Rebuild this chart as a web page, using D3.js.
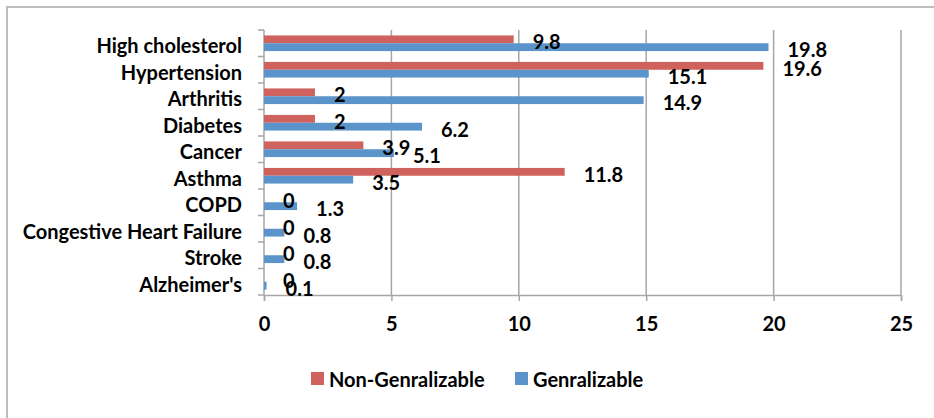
<!DOCTYPE html>
<html><head><meta charset="utf-8">
<script src="https://cdn.jsdelivr.net/npm/d3@7"></script>
<style>
html,body{margin:0;padding:0;background:#fff;}
svg{display:block;font-family:Lato,"Open Sans",sans-serif;font-weight:bold;}
</style></head>
<body><svg id="c" width="934" height="418"></svg>
<script>
const categories = ["High cholesterol","Hypertension","Arthritis","Diabetes","Cancer","Asthma","COPD","Congestive Heart Failure","Stroke","Alzheimer's"];
const nonGeneralizable = [9.8,19.6,2,2,3.9,11.8,0,0,0,0];
const generalizable = [19.8,15.1,14.9,6.2,5.1,3.5,1.3,0.8,0.8,0.1];
const seriesNames = ["Non-Genralizable","Genralizable"];
const seriesColors = ["#D0625E","#5B94CA"];
const xTicks = [0,5,10,15,20,25];

const svg = d3.select("#c");
const gridColor = "#a6a6a6";
const fs = 20;

// outer border (cropped)
svg.append("rect").attr("x",7).attr("y",7).attr("width",960).attr("height",440)
  .attr("fill","none").attr("stroke","#bdbdbd").attr("stroke-width",2);

const x = d3.scaleLinear().domain([0,25]).range([264,901]);
const y0 = d3.scaleBand().domain(categories).range([30,295]).paddingInner(0.41).paddingOuter(0.205);
const y1 = d3.scaleBand().domain(seriesNames).range([0,y0.bandwidth()]);
const step = y0.step();
const plotTop = 30, plotBottom = 295;

// gridlines
svg.append("g").selectAll("line").data(xTicks.slice(1)).join("line")
  .attr("x1",d=>x(d)).attr("x2",d=>x(d)).attr("y1",plotTop).attr("y2",plotBottom)
  .attr("stroke",gridColor).attr("stroke-width",1.5);

// bottom axis
const xAxis = d3.axisBottom(x).tickValues(xTicks).tickSize(6).tickPadding(20).tickFormat(d3.format("d"));
const gx = svg.append("g").attr("transform",`translate(0,${plotBottom})`).call(xAxis);
gx.select(".domain").attr("stroke",gridColor).attr("stroke-width",1.5);
gx.selectAll(".tick line").attr("stroke",gridColor).attr("stroke-width",1.5);
gx.selectAll(".tick text").attr("font-size",fs).attr("font-family","Lato").attr("font-weight","bold").attr("fill","#000").attr("dy","0.5em");

// left axis line + boundary ticks
svg.append("line").attr("x1",x(0)).attr("x2",x(0)).attr("y1",plotTop).attr("y2",plotBottom)
  .attr("stroke",gridColor).attr("stroke-width",1.5);
svg.append("g").selectAll("line").data(d3.range(categories.length+1)).join("line")
  .attr("x1",x(0)-6).attr("x2",x(0)).attr("y1",i=>plotTop+i*step).attr("y2",i=>plotTop+i*step)
  .attr("stroke",gridColor).attr("stroke-width",1.5);

// category labels
svg.append("g").selectAll("text").data(categories).join("text")
  .attr("x",242).attr("y",d=>y0(d)+y0.bandwidth()/2+10)
  .attr("text-anchor","end").attr("font-size",fs).attr("fill","#000").text(d=>d);

// bars
const rows = categories.map((c,i)=>({c, vals:[nonGeneralizable[i], generalizable[i]]}));
const g = svg.append("g").selectAll("g").data(rows).join("g")
  .attr("transform",d=>`translate(0,${y0(d.c)})`);
g.selectAll("rect").data(d=>d.vals.map((v,k)=>({v,k}))).join("rect")
  .attr("x",x(0)).attr("y",d=>y1(seriesNames[d.k]))
  .attr("width",d=>x(d.v)-x(0)).attr("height",y1.bandwidth())
  .attr("fill",d=>seriesColors[d.k]);
// data labels
g.selectAll("text").data(d=>d.vals.map((v,k)=>({v,k}))).join("text")
  .attr("x",d=>x(d.v)+19).attr("y",d=>y1(seriesNames[d.k])+y1.bandwidth()/2+10)
  .attr("font-size",fs).attr("fill","#000").text(d=>d.v);

// legend
const lg = svg.append("g");
const legendX = [311,515];
seriesNames.forEach((n,k)=>{
  lg.append("rect").attr("x",legendX[k]).attr("y",372).attr("width",13).attr("height",13).attr("fill",seriesColors[k]);
  lg.append("text").attr("x",legendX[k]+18).attr("y",386.5).attr("font-size",fs).attr("fill","#000").text(n);
});
</script></body></html>
